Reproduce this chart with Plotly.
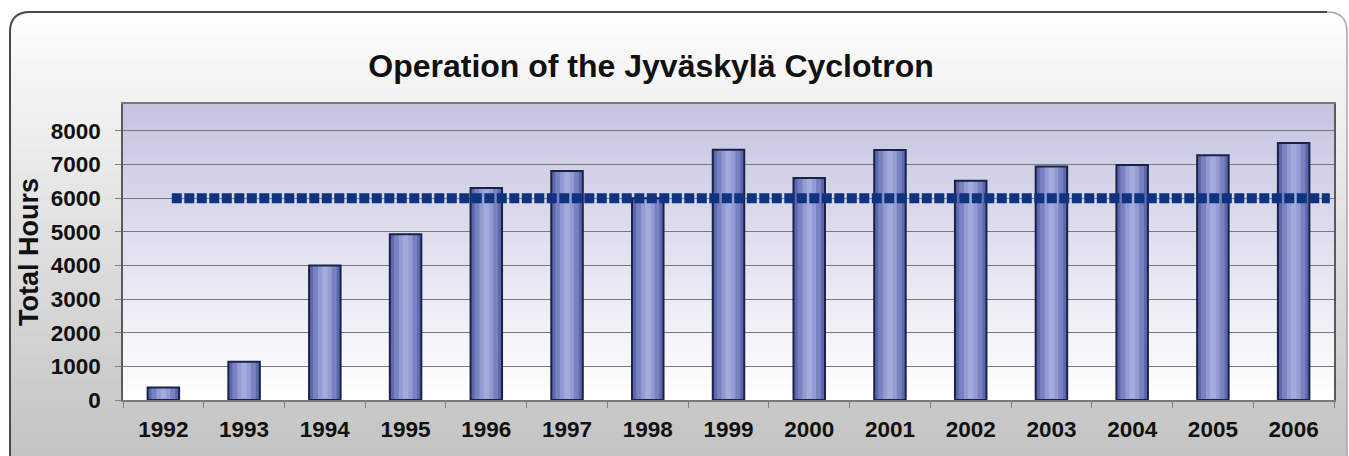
import plotly.graph_objects as go

years = ['1992', '1993', '1994', '1995', '1996', '1997', '1998', '1999',
         '2000', '2001', '2002', '2003', '2004', '2005', '2006']
hours = [370, 1140, 4000, 4930, 6300, 6810, 6000, 7440,
         6600, 7430, 6520, 6940, 6990, 7280, 7640]
target_hours = 6000
target_years = [1992, 2006]
y_ticks = [0, 1000, 2000, 3000, 4000, 5000, 6000, 7000, 8000]

# page geometry (px)
W, H = 1349, 456
L, R, T, B = 123, 15, 104, 56
pw, ph = W - L - R, H - T - B


def px(x):
    return (x - L) / pw


def py(y):
    return (H - B - y) / ph


def mix(c1, c2, t):
    return 'rgb(%d,%d,%d)' % tuple(round(a + (b - a) * t) for a, b in zip(c1, c2))


shapes = []

# outer panel: light at top, grey at the bottom
n = 40
top, bot = 12, 470
for i in range(n):
    y0 = top + (bot - top) * i / n
    y1 = top + (bot - top) * (i + 1) / n + 1
    shapes.append(dict(type='rect', xref='paper', yref='paper', layer='below',
                       x0=px(10), x1=px(1347), y0=py(y1), y1=py(y0),
                       line_width=0,
                       fillcolor=mix((252, 252, 252), (194, 194, 194), i / (n - 1))))

# plot area: lavender at top fading to white
for i in range(n):
    y0 = T + ph * i / n
    y1 = T + ph * (i + 1) / n + 0.5
    shapes.append(dict(type='rect', xref='paper', yref='paper', layer='below',
                       x0=0, x1=1, y0=py(y1), y1=py(y0), line_width=0,
                       fillcolor=mix((196, 196, 224), (255, 255, 255), i / (n - 1))))

# panel border with rounded corners
r = 20
left_top = (f'M {px(10)},{py(470)} L {px(10)},{py(12 + r)} '
            f'Q {px(10)},{py(12)} {px(10 + r)},{py(12)} '
            f'L {px(1347 - r)},{py(12)}')
right = (f'M {px(1347 - r)},{py(12)} Q {px(1347)},{py(12)} {px(1347)},{py(12 + r)} '
         f'L {px(1347)},{py(470)}')
shapes.append(dict(type='path', xref='paper', yref='paper', path=left_top,
                   line=dict(color='#4a4a4a', width=2)))
shapes.append(dict(type='path', xref='paper', yref='paper', path=right,
                   line=dict(color='#a8a8a8', width=1.5)))

fig = go.Figure()

# bars: layered to fake the cylinder shading
for w, c in [(0.39, '#5d68ac'), (0.29, '#7882c0'), (0.17, '#929bd3'), (0.07, '#a3abdd')]:
    fig.add_trace(go.Bar(x=years, y=hours, width=w, marker_color=c,
                         marker_line_width=0, hoverinfo='skip'))
fig.add_trace(go.Bar(x=years, y=hours, width=0.39, marker_color='rgba(0,0,0,0)',
                     marker_line=dict(color='#1a2148', width=2), name='Total Hours'))

# 6000 h reference line
fig.add_trace(go.Scatter(x=target_years, y=[target_hours] * len(target_years),
                         xaxis='x2', mode='lines',
                         line=dict(color='#10337f', width=10, dash='10px,2.5px')))

tick_font = dict(family='Liberation Sans, Arial, sans-serif', size=22.5,
                 color='#111111', weight='bold')

fig.update_layout(
    width=W, height=H,
    margin=dict(l=L, r=R, t=T, b=B),
    paper_bgcolor='white',
    plot_bgcolor='rgba(0,0,0,0)',
    showlegend=False,
    barmode='overlay',
    shapes=shapes,
    title=dict(text='Operation of the Jyväskylä Cyclotron',
               x=px(651), xref='paper', xanchor='center',
               y=1 - 66 / H, yref='container', yanchor='middle',
               font=dict(family='Liberation Sans, Arial, sans-serif', size=32,
                         color='#111111', weight='bold')),
    xaxis=dict(type='category', tickfont=tick_font, showgrid=False,
               ticks='outside', ticklen=6, tickcolor='#808080', tickson='boundaries',
               showline=True, linecolor='#7a7a7a', linewidth=1.5, mirror=True,
               ticklabelstandoff=8),
    xaxis2=dict(overlaying='x', range=[1991.41, 2006.05], visible=False),
    yaxis=dict(range=[0, 8800], tickvals=y_ticks, tickfont=tick_font,
               showgrid=True, gridcolor='#787878', gridwidth=1.2,
               ticks='outside', ticklen=6, tickcolor='#808080',
               showline=True, linecolor='#5a5a5a', linewidth=1.5, mirror=True,
               ticklabelstandoff=10,
               title=dict(text='Total Hours', standoff=4,
                          font=dict(family='Liberation Sans, Arial, sans-serif',
                                    size=27, color='#111111', weight='bold'))),
)

fig.write_html('out.html', config={'displayModeBar': False},
               post_script="document.body.style.margin='0px';")
